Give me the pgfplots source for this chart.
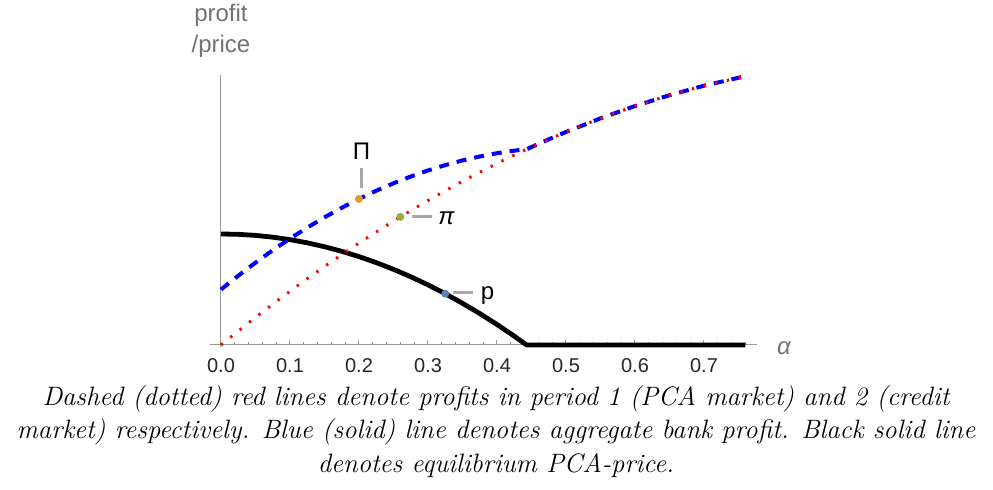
\documentclass[border=0pt]{standalone}
\usepackage{fontspec}
\usepackage{pgfplots}
\pgfplotsset{compat=1.18}
\newfontfamily\arial{Liberation Sans}
\definecolor{mblue}{HTML}{5E81B5}
\definecolor{morange}{HTML}{E19C24}
\definecolor{mgreen}{HTML}{8FB032}
\begin{document}
\begin{tikzpicture}
\begin{axis}[
 x=345pt, y=0.5pt,
 xmin=-0.016, xmax=0.777, ymin=-2, ymax=270,
 axis lines=middle,
 axis line style={-, draw=black!40, line width=0.5pt},
 clip=false,
 xtick={0,0.1,0.2,0.3,0.4,0.5,0.6,0.7},
 xticklabels={0.0,0.1,0.2,0.3,0.4,0.5,0.6,0.7},
 minor xtick={0.02,0.04,0.06,0.08,0.12,0.14,0.16,0.18,0.22,0.24,0.26,0.28,0.32,0.34,0.36,0.38,0.42,0.44,0.46,0.48,0.52,0.54,0.56,0.58,0.62,0.64,0.66,0.68,0.72,0.74,0.76},
 ytick=\empty,
 hide obscured x ticks=false,
 tick align=inside,
 major tick length=2.5pt, minor tick length=1.5pt,
 every tick/.style={draw=black!40, line width=0.5pt},
 xticklabel style={font=\arial\fontsize{10}{12}\selectfont, text=black!85, yshift=-3pt},
]
% black: equilibrium PCA-price
\addplot[black, line width=2.4pt] coordinates {
(0,111) (0.025,110.65) (0.05,109.59) (0.075,107.82) (0.1,105.34) (0.125,102.16)
(0.15,98.27) (0.175,93.68) (0.2,88.38) (0.225,82.37) (0.25,75.65) (0.275,68.23)
(0.3,60.10) (0.325,51.26) (0.35,41.71) (0.375,31.46) (0.4,20.50) (0.425,8.84)
(0.443,0) (0.76,0)};
% blue dashed: aggregate profit
\addplot[blue, line width=2pt, line cap=butt, dash pattern=on 5pt off 4pt] coordinates {
(0,55.5) (0.025,69.28) (0.05,82.36) (0.075,94.72) (0.1,106.39) (0.125,117.36)
(0.15,127.64) (0.175,137.20) (0.2,146.07) (0.225,154.24) (0.25,161.71) (0.275,168.47)
(0.3,174.53) (0.325,179.89) (0.35,184.56) (0.375,188.51) (0.4,191.77) (0.425,194.33)
(0.443,195.74) (0.475,205.65) (0.5,213.0) (0.55,226.66) (0.6,238.92) (0.65,249.79)
(0.7,259.28) (0.76,268.83)};
% red dotted
\addplot[red, line width=1.5pt, line cap=butt, dash pattern=on 1.2pt off 4.8pt] coordinates {
(0,0) (0.025,13.95) (0.05,27.56) (0.075,40.81) (0.1,53.72) (0.125,66.28)
(0.15,78.50) (0.175,90.36) (0.2,101.88) (0.225,113.05) (0.25,123.88) (0.275,134.35)
(0.3,144.48) (0.325,154.26) (0.35,163.70) (0.375,172.78) (0.4,181.52) (0.425,189.91)
(0.443,195.74) (0.475,205.65) (0.5,213.0) (0.55,226.66) (0.6,238.92) (0.65,249.79)
(0.7,259.28) (0.76,268.83)};
% callouts
\draw[black!35, line width=1.5pt] (axis cs:0.203,157) -- (axis cs:0.203,177);
\draw[black!35, line width=1.5pt] (axis cs:0.2768,128.3) -- (axis cs:0.3058,128.3);
\draw[black!35, line width=1.5pt] (axis cs:0.3362,52) -- (axis cs:0.3652,52);
\addplot[only marks, mark=*, mark size=1.75pt, color=morange] coordinates {(0.2,146.07)};
\addplot[only marks, mark=*, mark size=1.75pt, color=mgreen] coordinates {(0.26,128.1)};
\addplot[only marks, mark=*, mark size=1.75pt, color=mblue] coordinates {(0.325,51.26)};
\node[font=\arial\fontsize{12}{14}\selectfont, inner sep=0pt] at (axis cs:0.2036,193.5) {Π};
\node[font=\arial\itshape\fontsize{12}{14}\selectfont, inner sep=0pt] at (axis cs:0.3268,127) {π};
\node[font=\arial\fontsize{12}{14}\selectfont, inner sep=0pt] at (axis cs:0.3862,49) {p};
\node[font=\arial\itshape\fontsize{12}{14}\selectfont, text=black!55, inner sep=0pt] at (axis cs:0.816,-3) {α};
\node[font=\arial\fontsize{12}{14}\selectfont, text=black!55, inner sep=0pt, anchor=base] at (axis cs:0,323) {profit};
\node[font=\arial\fontsize{12}{14}\selectfont, text=black!55, inner sep=0pt, anchor=base] at (axis cs:0,292) {/price};
\coordinate (O) at (axis cs:0,0);
\end{axis}
\node[anchor=north, inner sep=0pt, align=center, font=\fontsize{13.3}{16.75}\selectfont\itshape] at ([xshift=137.5pt,yshift=-20pt]O) {Dashed (dotted) red lines denote profits in period 1 (PCA market) and 2 (credit\\ market) respectively. Blue (solid) line denotes aggregate bank profit. Black solid line\\ denotes equilibrium PCA-price.};
\pgfresetboundingbox
\path[use as bounding box] ([xshift=-110.5pt,yshift=-72.5pt]O) rectangle ([xshift=386pt,yshift=172.5pt]O);
\end{tikzpicture}
\end{document}
